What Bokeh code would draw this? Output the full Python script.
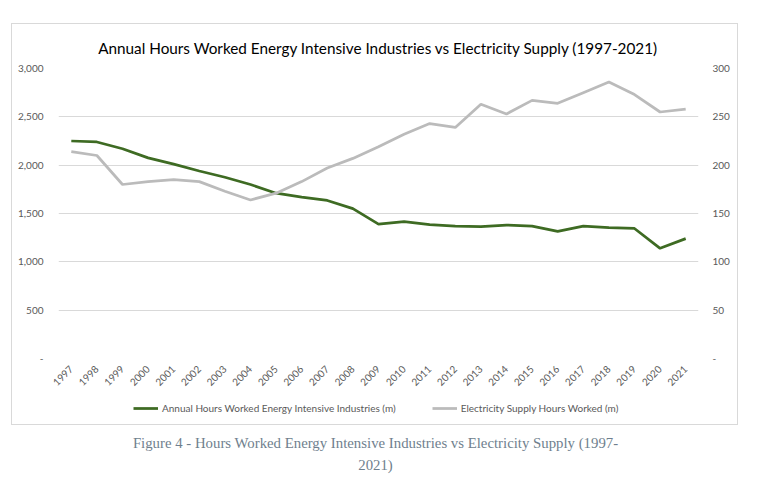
import math
from bokeh.plotting import figure
from bokeh.models import (FactorRange, Range1d, LinearAxis, FixedTicker, Legend,
                          LegendItem, NumeralTickFormatter, Div)
from bokeh.layouts import column
from bokeh.embed import file_html
from bokeh.resources import INLINE

years = [str(y) for y in range(1997, 2022)]
energy_intensive_hours = [2250, 2240, 2170, 2075, 2010, 1940, 1875, 1800, 1710, 1670,
                          1635, 1550, 1390, 1415, 1385, 1370, 1365, 1380, 1370, 1315,
                          1370, 1355, 1345, 1140, 1240]
electricity_supply_hours = [214, 210, 180, 183, 185, 183, 173, 164, 171, 183,
                            197, 207, 219, 232, 243, 239, 263, 253, 267, 264,
                            275, 286, 273, 255, 258]
left_ticks = [0, 500, 1000, 1500, 2000, 2500, 3000]
right_ticks = [0, 50, 100, 150, 200, 250, 300]

title_text = "Annual Hours Worked Energy Intensive Industries vs Electricity Supply (1997-2021)"
series1_name = "Annual Hours Worked Energy Intensive Industries (m)"
series2_name = "Electricity Supply Hours Worked (m)"
caption_line1 = "Figure 4 - Hours Worked Energy Intensive Industries vs Electricity Supply (1997-"
caption_line2 = "2021)"

GREEN = "#3E6B23"
GREY = "#BBBBBB"
TXT = "#595959"
FONT = "Lato"
LW = 2.75

# ---- main chart ----
p = figure(width=725, height=372, x_range=FactorRange(*years), y_range=Range1d(0, 3000),
           output_backend="svg", toolbar_location=None, title=title_text,
           min_border_left=46, min_border_right=39, min_border_top=43, min_border_bottom=38)
p.outline_line_color = None
p.extra_y_ranges = {"r": Range1d(0, 300)}

p.title.align = "center"
p.title.text_font = FONT
p.title.text_font_size = "15.3px"
p.title.text_font_style = "normal"
p.title.text_color = "#000000"
p.title.standoff = 24

p.line(years, energy_intensive_hours, line_color=GREEN, line_width=LW)
p.line(years, electricity_supply_hours, line_color=GREY, line_width=LW, y_range_name="r")

p.xgrid.grid_line_color = None
p.ygrid.grid_line_color = "#d9d9d9"
p.ygrid.ticker = FixedTicker(ticks=left_ticks)

ax_r = LinearAxis(y_range_name="r")
p.add_layout(ax_r, "right")

for ax in [p.yaxis[0], ax_r]:
    ax.axis_line_color = None
    ax.major_tick_line_color = None
    ax.minor_tick_line_color = None
    ax.major_label_text_font = FONT
    ax.major_label_text_font_size = "10px"
    ax.major_label_text_color = TXT

p.yaxis[0].ticker = FixedTicker(ticks=left_ticks)
p.yaxis[0].formatter = NumeralTickFormatter(format="0,0")
p.yaxis[0].major_label_overrides = {0: "-"}
p.yaxis[0].major_label_standoff = 9
ax_r.ticker = FixedTicker(ticks=right_ticks)
ax_r.major_label_overrides = {0: "-"}
ax_r.major_label_standoff = 8

xa = p.xaxis[0]
xa.axis_line_color = None
xa.major_tick_line_color = None
xa.major_label_orientation = math.pi / 4
xa.major_label_text_font = FONT
xa.major_label_text_font_size = "10px"
xa.major_label_text_color = TXT
xa.major_label_standoff = 3

# ---- legend strip (same series, drawn out of view so only the legend shows) ----
lg = figure(width=725, height=28, x_range=FactorRange(*years), y_range=Range1d(-20, -10),
            output_backend="svg", toolbar_location=None, x_axis_type=None, y_axis_type=None,
            min_border=0)
lg.outline_line_color = None
lg.grid.grid_line_color = None
g1 = lg.line(years, energy_intensive_hours, line_color=GREEN, line_width=LW)
g2 = lg.line(years, electricity_supply_hours, line_color=GREY, line_width=LW)

legend = Legend(items=[LegendItem(label=series1_name, renderers=[g1]),
                       LegendItem(label=series2_name, renderers=[g2])],
                orientation="horizontal", location=(75, 6))
legend.border_line_color = None
legend.background_fill_alpha = 0
legend.label_text_font = FONT
legend.label_text_font_size = "10px"
legend.label_text_color = TXT
legend.glyph_width = 25
legend.label_standoff = 4
legend.spacing = 36
legend.padding = 0
legend.margin = 0
lg.add_layout(legend, "center")

chart_box = column(p, lg, styles={"border": "1px solid #d9d9d9"})
chart_box.margin = (23, 0, 0, 11)

cap = Div(text=caption_line1 + "<br>" + caption_line2, width=727,
          styles={"font-family": "Liberation Serif", "font-size": "14.8px", "color": "#6F7F8E",
                  "text-align": "center", "line-height": "22px", "white-space": "nowrap"})
cap.margin = (7, 0, 0, 12)

layout = column(chart_box, cap)
open("out.html", "w").write(file_html(layout, INLINE))
